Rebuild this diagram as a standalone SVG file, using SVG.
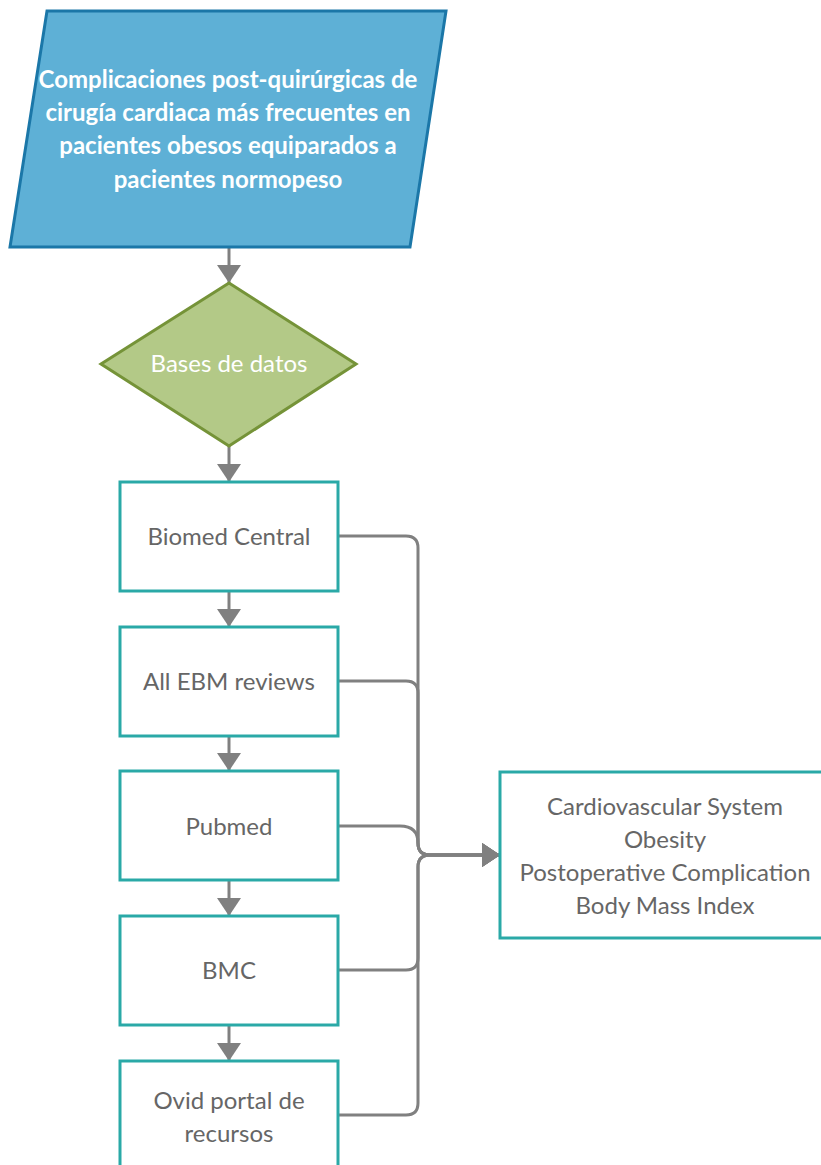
<svg xmlns="http://www.w3.org/2000/svg" width="821" height="1165" viewBox="0 0 821 1165">
<defs>
<marker id="ah" markerWidth="6" markerHeight="8" refX="6" refY="4" orient="auto" markerUnits="strokeWidth">
<path d="M0,0 L6,4 L0,8 Z" fill="#808080"/>
</marker>
<style>
.t{font-family:Lato,"Liberation Sans",sans-serif;font-size:24px;fill:#666666;text-anchor:middle}
.w{fill:#ffffff}
.b{font-weight:bold}
.box{fill:#ffffff;stroke:#2aa9a7;stroke-width:3}
.c{fill:none;stroke:#808080;stroke-width:3}
</style>
</defs>
<rect width="821" height="1165" fill="#ffffff"/>
<g id="connectors">
<path class="c" d="M229 247 V283" marker-end="url(#ah)"/>
<path class="c" d="M229 446 V482" marker-end="url(#ah)"/>
<path class="c" d="M229 591 V627" marker-end="url(#ah)"/>
<path class="c" d="M229 736 V771" marker-end="url(#ah)"/>
<path class="c" d="M229 880 V916" marker-end="url(#ah)"/>
<path class="c" d="M229 1025 V1061" marker-end="url(#ah)"/>
<path class="c" d="M338 536 H406 Q418 536 418 548 V843 Q418 855 430 855 H500" marker-end="url(#ah)"/>
<path class="c" d="M338 681 H406 Q418 681 418 693 V843 Q418 855 430 855 H500" marker-end="url(#ah)"/>
<path class="c" d="M338 826 H400 Q418 826 418 843 Q418 855 430 855 H500" marker-end="url(#ah)"/>
<path class="c" d="M338 970 H406 Q418 970 418 958 V867 Q418 855 430 855 H500" marker-end="url(#ah)"/>
<path class="c" d="M338 1115 H406 Q418 1115 418 1103 V867 Q418 855 430 855 H500" marker-end="url(#ah)"/>
</g>
<g id="n-title">
<polygon points="47,11 446,11 410,247 10,247" fill="#5eb0d6" stroke="#1b77a8" stroke-width="3"/>
<text class="t w b" x="228" y="88">Complicaciones post-quirúrgicas de</text>
<text class="t w b" x="228" y="121">cirugía cardiaca más frecuentes en</text>
<text class="t w b" x="228" y="154">pacientes obesos equiparados a</text>
<text class="t w b" x="228" y="188">pacientes normopeso</text>
</g>
<g id="n-bases">
<polygon points="229,283 356,364 229,446 101,364" fill="#b3c987" stroke="#759338" stroke-width="3"/>
<text class="t w" x="229" y="372">Bases de datos</text>
</g>
<g id="n-biomed">
<rect class="box" x="120" y="482" width="218" height="109"/>
<text class="t" x="229" y="545">Biomed Central</text>
</g>
<g id="n-ebm">
<rect class="box" x="120" y="627" width="218" height="109"/>
<text class="t" x="229" y="690">All EBM reviews</text>
</g>
<g id="n-pubmed">
<rect class="box" x="120" y="771" width="218" height="109"/>
<text class="t" x="229" y="835">Pubmed</text>
</g>
<g id="n-bmc">
<rect class="box" x="120" y="916" width="218" height="109"/>
<text class="t" x="229" y="979">BMC</text>
</g>
<g id="n-ovid">
<rect class="box" x="120" y="1061" width="218" height="120"/>
<text class="t" x="229" y="1109">Ovid portal de</text>
<text class="t" x="229" y="1142">recursos</text>
</g>
<g id="n-terms">
<rect class="box" x="500" y="772" width="330" height="166"/>
<text class="t" x="665" y="815">Cardiovascular System</text>
<text class="t" x="665" y="848">Obesity</text>
<text class="t" x="665" y="881">Postoperative Complication</text>
<text class="t" x="665" y="914">Body Mass Index</text>
</g>
</svg>
